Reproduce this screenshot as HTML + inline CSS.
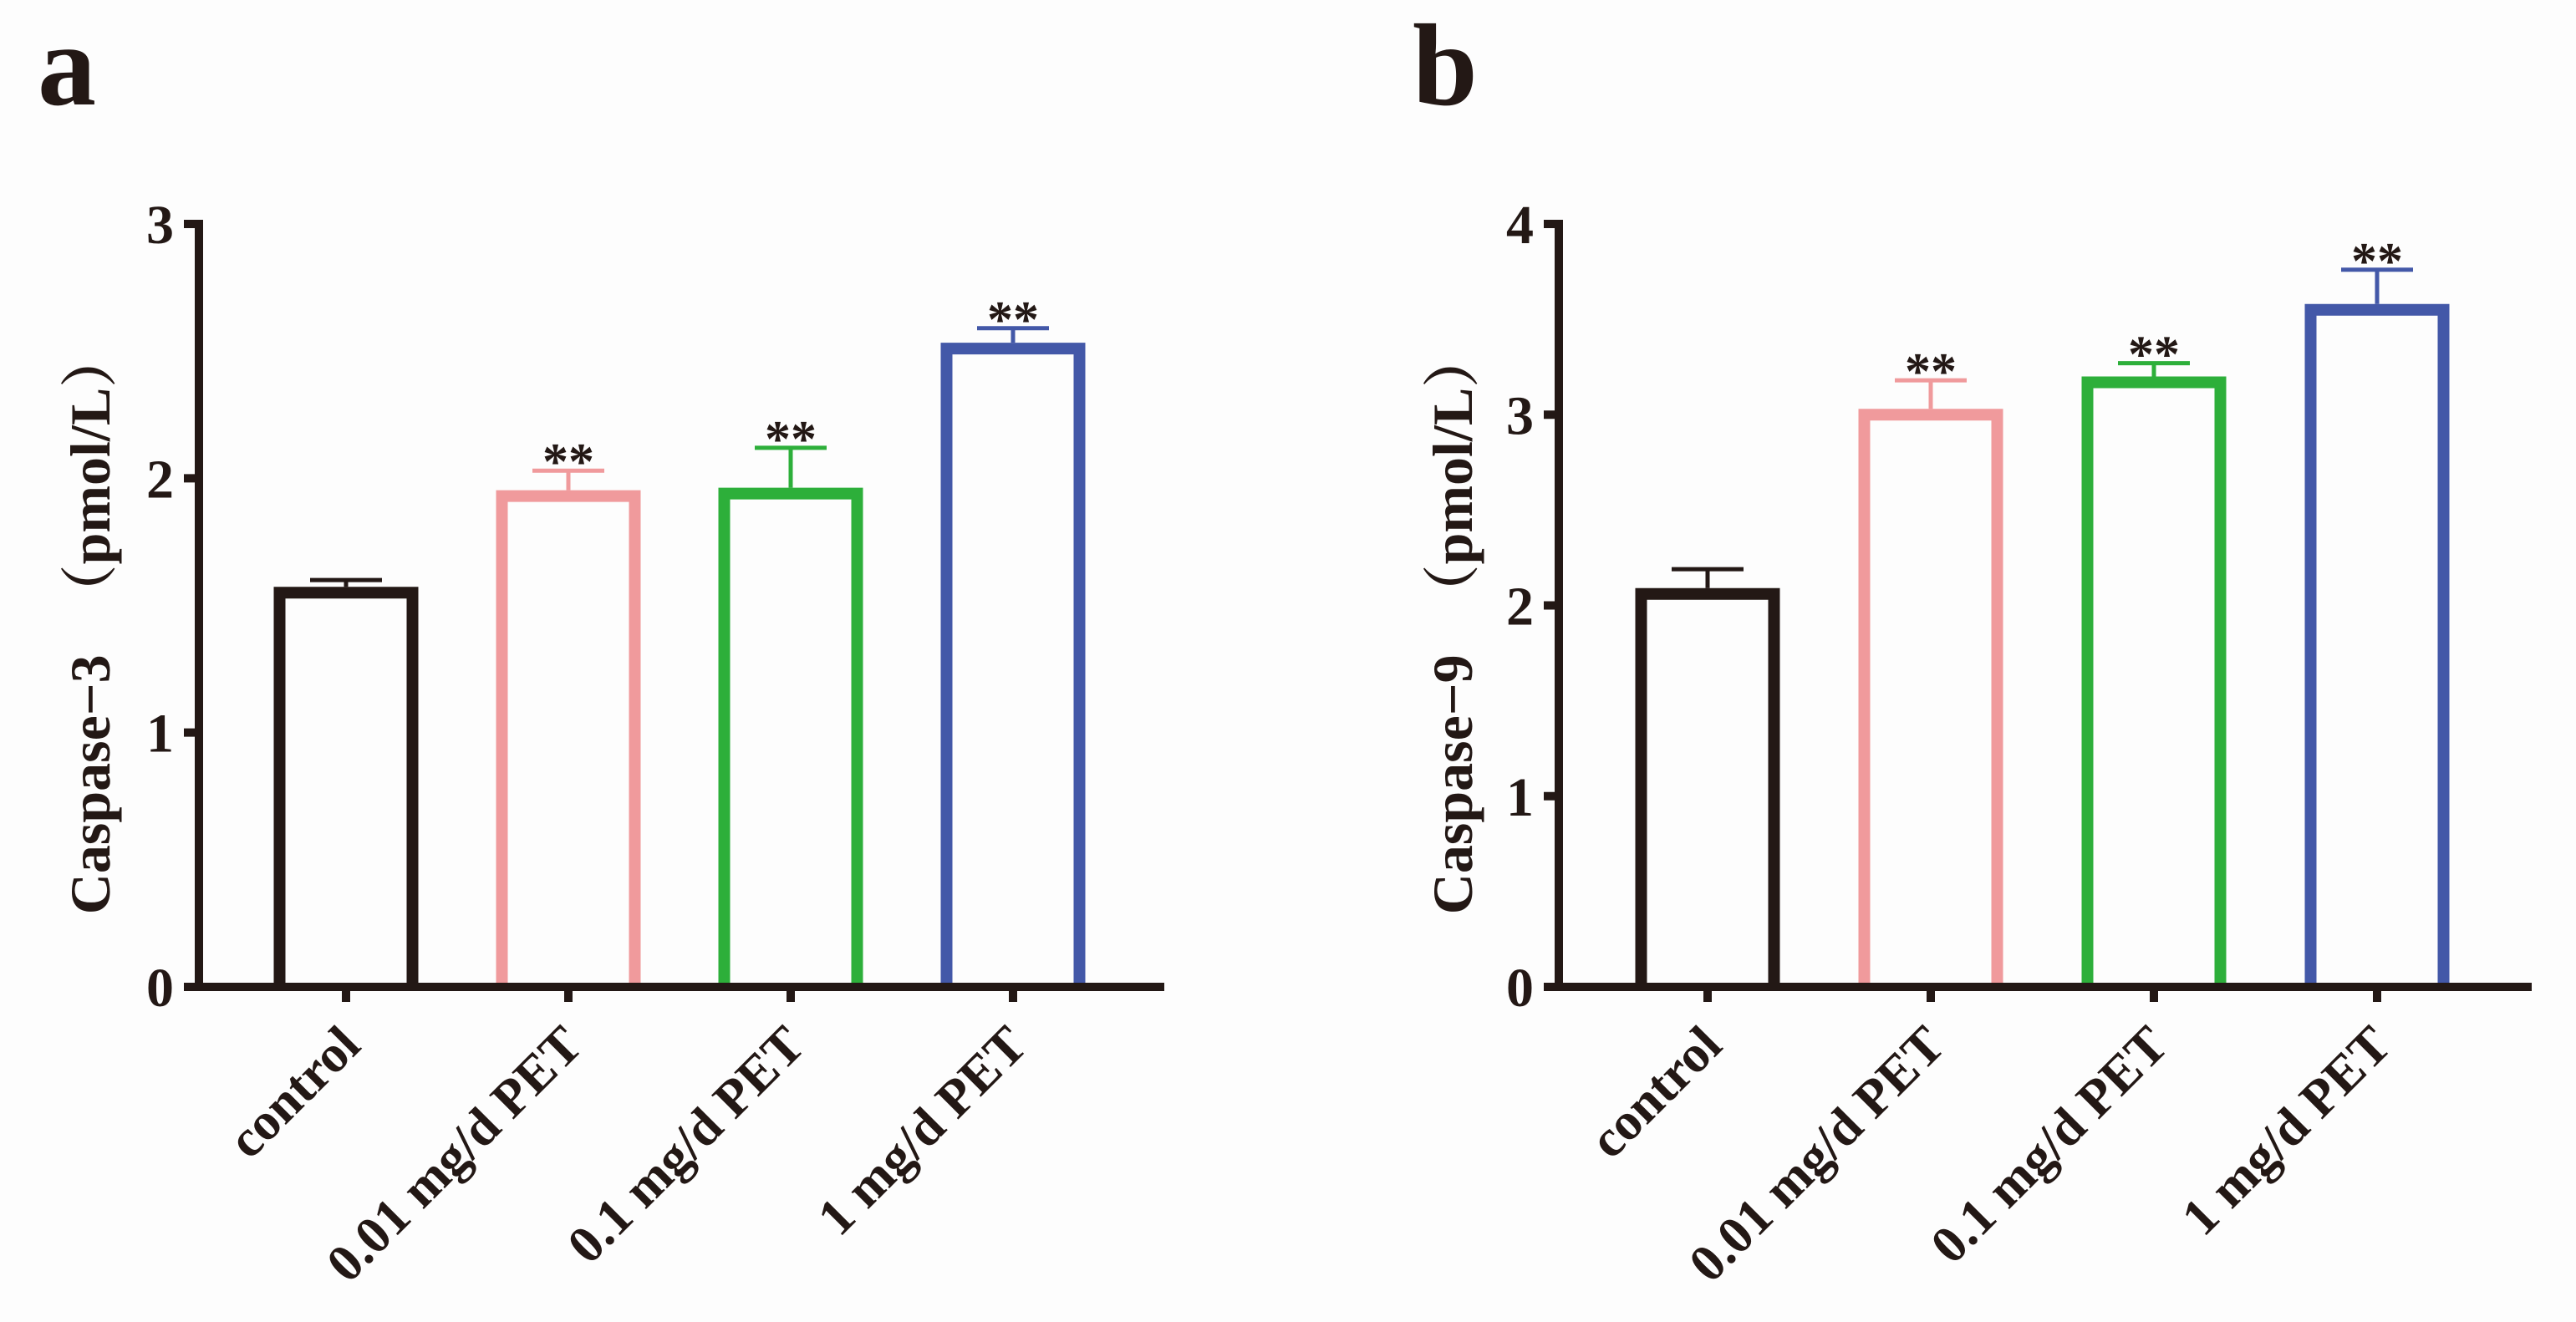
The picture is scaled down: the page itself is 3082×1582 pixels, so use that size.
<!DOCTYPE html>
<html><head><meta charset="utf-8">
<style>
html,body{margin:0;padding:0;background:#fdfdfd;}
svg{display:block;}
text{font-family:"Liberation Serif","Times New Roman",serif;font-weight:bold;fill:#231815;}
.cjk{font-family:"Noto Serif CJK SC","Liberation Serif",serif;}
</style></head>
<body>
<svg id="chart" width="3082" height="1582" viewBox="0 0 3082 1582" xmlns="http://www.w3.org/2000/svg">
<rect x="0" y="0" width="3082" height="1582" fill="#fdfdfd"/>
<text x="45" y="125" font-size="140">a</text>
<text x="1690" y="125" font-size="140">b</text>
<g id="pa"></g>
<g id="pb"></g>
</svg>
<script>
const categories = ["control", "0.01 mg/d PET", "0.1 mg/d PET", "1 mg/d PET"];
const colors = ["#231815", "#f09a9c", "#2daf3a", "#4358a8"];
const casp3Means = [1.55, 1.93, 1.94, 2.51];
const casp3Errors = [0.05, 0.10, 0.18, 0.08];
const casp3Sig = ["", "**", "**", "**"];
const casp3Ticks = [0, 1, 2, 3];
const casp9Means = [2.06, 3.00, 3.17, 3.55];
const casp9Errors = [0.13, 0.18, 0.10, 0.21];
const casp9Sig = ["", "**", "**", "**"];
const casp9Ticks = [0, 1, 2, 3, 4];

const NS = "http://www.w3.org/2000/svg";
function mk(parent, tag, attrs, txt) {
  const e = document.createElementNS(NS, tag);
  for (const k in attrs) e.setAttribute(k, attrs[k]);
  if (txt !== undefined) e.textContent = txt;
  parent.appendChild(e);
  return e;
}

function drawPanel(g, cfg, means, errs, sig, ticks) {
  const yMax = ticks[ticks.length - 1];
  const yScale = v => cfg.y0 - (v / yMax) * (cfg.y0 - cfg.yTop);
  const xScale = i => cfg.x0 + i * cfg.step;
  // y axis title
  const t = mk(g, "text", {x: 0, y: 0, "font-size": 68, "text-anchor": "middle",
    transform: `translate(${cfg.titleX},${cfg.titleY}) rotate(-90)`});
  
  
  mk(t, "tspan", {}, cfg.title);
  mk(t, "tspan", {class: "cjk", dx: 40}, "（");
  mk(t, "tspan", {}, "pmol/L");
  mk(t, "tspan", {class: "cjk"}, "）");
  // bars
  means.forEach((m, i) => {
    const cx = xScale(i), top = yScale(m), bw = 173, sw = 14;
    const b = mk(g, "path", {d: `M${cx - bw/2 + sw/2},${cfg.y0} V${top} H${cx + bw/2 - sw/2} V${cfg.y0}`,
      fill: "none", stroke: colors[i], "stroke-width": sw, "stroke-linejoin": "miter"});
    
    
    const eTop = yScale(m + errs[i]);
    const e = mk(g, "path", {d: `M${cx},${top - sw/2} V${eTop} M${cx - 43},${eTop} H${cx + 43}`,
      fill: "none", stroke: colors[i], "stroke-width": 5});
    
    
    if (sig[i]) {
      const s = mk(g, "text", {x: cx, y: eTop + 10, "font-size": 62, "text-anchor": "middle", "font-weight": "normal"}, sig[i]);
      
      
    }
    const tk = mk(g, "line", {x1: cx, x2: cx, y1: cfg.y0, y2: cfg.y0 + 18, stroke: "#231815", "stroke-width": 10});
    
    
    const lb = mk(g, "text", {x: 0, y: 0, "font-size": 63, "text-anchor": "end",
      transform: `translate(${cx + 20},${1254}) rotate(-45)`}, categories[i]);
    
    
  });
  // axes
  const ya = mk(g, "line", {x1: cfg.axX, x2: cfg.axX, y1: cfg.yTop - 5, y2: cfg.y0 + 5, stroke: "#231815", "stroke-width": 10});
  
  
  const xa = mk(g, "line", {x1: cfg.xStart, x2: cfg.xEnd, y1: cfg.y0, y2: cfg.y0, stroke: "#231815", "stroke-width": 10});
  
  
  ticks.forEach(v => {
    const y = yScale(v);
    const tl = mk(g, "line", {x1: cfg.axX - 18, x2: cfg.axX, y1: y, y2: y, stroke: "#231815", "stroke-width": 10});
    
    
    const tx = mk(g, "text", {x: cfg.axX - 30, y: y + 23, "font-size": 66, "text-anchor": "end"}, String(v));
    
    
  });
}

drawPanel(document.getElementById("pa"),
  {x0: 414, step: 266, y0: 1181, yTop: 268, axX: 238, xStart: 226, xEnd: 1393,
   titleX: 131, titleY: 745, title: "Caspase−3"},
  casp3Means, casp3Errors, casp3Sig, casp3Ticks);
drawPanel(document.getElementById("pb"),
  {x0: 2043, step: 267, y0: 1181, yTop: 268, axX: 1865, xStart: 1853, xEnd: 3029,
   titleX: 1761, titleY: 745, title: "Caspase−9"},
  casp9Means, casp9Errors, casp9Sig, casp9Ticks);
</script>
</body></html>
